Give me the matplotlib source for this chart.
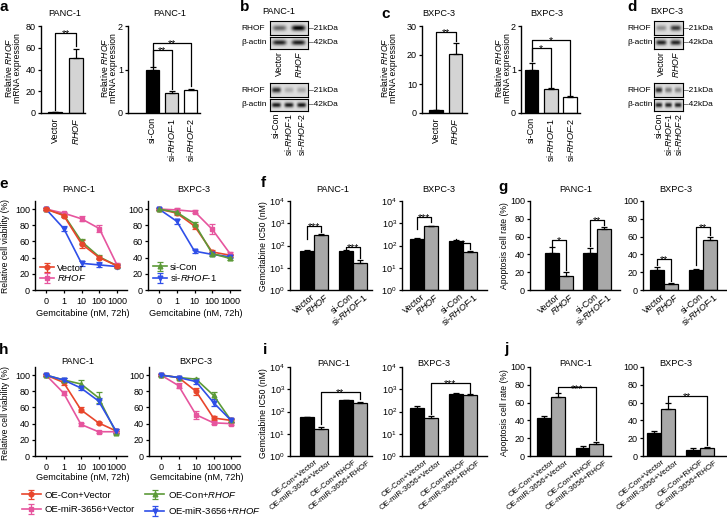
import numpy as np
import matplotlib
matplotlib.use('Agg')
import matplotlib.pyplot as plt
import matplotlib.transforms as mtrans

plt.rcParams['font.family'] = ['Liberation Sans', 'DejaVu Sans']
plt.rcParams['mathtext.fontset'] = 'custom'
plt.rcParams['mathtext.rm'] = 'Liberation Sans'
plt.rcParams['mathtext.it'] = 'Liberation Sans:italic'
plt.rcParams['mathtext.bf'] = 'Liberation Sans:bold'
plt.rcParams['font.size'] = 6.5

# ---------------- DATA ----------------
cells = ['PANC-1', 'BXPC-3']
oe_labels = ['Vector', r'$\it{RHOF}$']
si_labels = ['si-Con', r'si-$\it{RHOF}$-1', r'si-$\it{RHOF}$-2']

a_panc_oe = [1.0, 51.0]
a_panc_oe_err = [0.2, 8.0]
a_panc_si = [1.0, 0.46, 0.54]
a_panc_si_err = [0.05, 0.04, 0.02]
c_bx_oe = [1.0, 20.5]
c_bx_oe_err = [0.1, 3.8]
c_bx_si = [1.0, 0.55, 0.36]
c_bx_si_err = [0.15, 0.02, 0.02]

# western blot band intensities (relative)
b_rhof_oe = [0.55, 1.0]
b_actin_oe = [0.85, 0.88]
b_rhof_si = [0.8, 0.22, 0.25]
b_actin_si = [0.9, 0.9, 0.9]
d_rhof_oe = [0.35, 0.75]
d_actin_oe = [0.85, 0.85]
d_rhof_si = [0.8, 0.45, 0.4]
d_actin_si = [0.85, 0.85, 0.85]

doses = ['0', '1', '10', '100', '1000']
e_panc_vector = [100, 92, 57, 40, 30]
e_panc_vector_err = [1, 2, 5, 2, 2]
e_panc_rhof = [100, 95, 88, 76, 31]
e_panc_rhof_err = [1, 2, 3, 4, 2]
e_panc_sicon = [100, 93, 60, 41, 30]
e_panc_sicon_err = [1, 2, 3, 2, 2]
e_panc_sirhof = [100, 76, 33, 31, 29]
e_panc_sirhof_err = [1, 3, 3, 3, 2]
e_bx_vector = [100, 95, 79, 47, 43]
e_bx_vector_err = [1, 2, 3, 3, 2]
e_bx_rhof = [100, 99, 97, 75, 45]
e_bx_rhof_err = [1, 2, 2, 6, 2]
e_bx_sicon = [100, 96, 82, 45, 39]
e_bx_sicon_err = [1, 1, 2, 2, 2]
e_bx_sirhof = [100, 85, 48, 44, 41]
e_bx_sirhof_err = [1, 3, 2, 2, 2]

grp_labels = ['Vector', r'$\it{RHOF}$', 'si-Con', r'si-$\it{RHOF}$-1']
f_panc = [56, 295, 59, 17]
f_panc_err = [4, 20, 4, 5]
f_bx = [190, 750, 160, 53]
f_bx_err = [20, 40, 15, 5]
g_panc = [42, 16, 42, 69]
g_panc_err = [6, 4, 5.5, 2]
g_bx = [22.5, 6.5, 22, 56]
g_bx_err = [3.5, 1.5, 1.5, 3]

h_labels = ['OE-Con+Vector', 'OE-miR-3656+Vector', r'OE-Con+$\it{RHOF}$', r'OE-miR-3656+$\it{RHOF}$']
h_panc_con_vec = [100, 91, 57, 41, 31]
h_panc_con_vec_err = [1, 3, 3, 1, 2]
h_panc_mir_vec = [100, 78, 39, 30, 30]
h_panc_mir_vec_err = [1, 2, 2, 1, 1]
h_panc_con_rhof = [100, 94, 89, 72, 29]
h_panc_con_rhof_err = [1, 2, 5, 7, 2]
h_panc_mir_rhof = [100, 94, 84, 68, 31]
h_panc_mir_rhof_err = [1, 2, 3, 4, 2]
h_bx_con_vec = [100, 97, 80, 47, 44]
h_bx_con_vec_err = [1, 1, 4, 3, 3]
h_bx_mir_vec = [100, 87, 51, 41, 40]
h_bx_mir_vec_err = [1, 3, 5, 2, 2]
h_bx_con_rhof = [100, 97, 95, 75, 44]
h_bx_con_rhof_err = [1, 1, 2, 4, 2]
h_bx_mir_rhof = [100, 97, 92, 66, 44]
h_bx_mir_rhof_err = [1, 1, 3, 4, 2]

ij_labels = ['OE-Con+Vector', 'OE-miR-3656+Vector', 'OE-Con+RHOF', 'OE-miR-3656+RHOF']
i_panc = [54, 16, 315, 240]
i_panc_err = [4, 4, 10, 25]
i_bx = [150, 53, 630, 560]
i_bx_err = [20, 8, 40, 40]
j_panc = [42.5, 66, 9.4, 13]
j_panc_err = [2.5, 4.5, 2.2, 3]
j_bx = [25.5, 53, 7, 9.4]
j_bx_err = [2.5, 6, 1.6, 1.1]

# ---------------- FIGURE ----------------
W, H = 727, 523
fig = plt.figure(figsize=(W / 100, H / 100), dpi=100)

RED, PINK, GREEN, BLUE = '#e8462c', '#e6559e', '#5c9a38', '#2f4fe8'
GRAY = '#a8a8a8'
LIGHT = '#d4d4d4'
TS = 6.5
TITLE = 6.6
YL = 6.2


def add_ax(l, t, r, b):
    return fig.add_axes([l / W, 1 - b / H, (r - l) / W, (b - t) / H])


def ftext(x, y, s, **kw):
    kw.setdefault('fontsize', TITLE)
    kw.setdefault('ha', 'center')
    kw.setdefault('va', 'center')
    fig.text(x / W, 1 - y / H, s, **kw)


def style(ax):
    for s in ['top', 'right']:
        ax.spines[s].set_visible(False)
    for s in ['left', 'bottom']:
        ax.spines[s].set_linewidth(1.0)
    ax.tick_params(axis='both', labelsize=TS, length=2.5, width=0.9, pad=1.2)


def shift_labels(ax, dx):
    off = mtrans.ScaledTranslation(dx / 100, 0, fig.dpi_scale_trans)
    for lab in ax.get_xticklabels():
        lab.set_transform(lab.get_transform() + off)


def bar_panel(box, c0, s, pos, vals, errs, colors, width, labels, ylim, yticks,
              rot=90, log=False, lsize=TS, dx=0):
    l, t, r, b = box
    ax = add_ax(l, t, r, b)
    style(ax)
    if log:
        ax.set_yscale('log')
    base = 1 if log else 0
    ax.bar(pos, np.array(vals, float) - base, bottom=base, width=width, color=colors,
           edgecolor='black', linewidth=0.9, zorder=2)
    ax.errorbar(pos, vals, yerr=[np.zeros(len(vals)), errs], fmt='none', ecolor='black',
                elinewidth=0.9, capsize=2.2, capthick=0.9, zorder=3)
    ax.set_xlim((l - c0) / s, (r - c0) / s)
    ax.set_ylim(*ylim)
    ax.set_yticks(yticks)
    if log:
        ax.yaxis.set_minor_locator(matplotlib.ticker.NullLocator())
    ax.set_xticks(pos)
    if rot == 90:
        ax.set_xticklabels(labels, rotation=90, ha='center', va='top', fontsize=lsize)
        ax.tick_params(axis='x', length=0, pad=3)
    else:
        ax.set_xticklabels(labels, rotation=rot, ha='right', va='center',
                           rotation_mode='anchor', fontsize=lsize)
        ax.tick_params(axis='x', length=0, pad=4)
        shift_labels(ax, dx)
    return ax


def bracket(ax, x1, x2, y, y1, y2, txt):
    ax.plot([x1, x1, x2, x2], [y1, y, y, y2], color='black', lw=0.9, clip_on=False, zorder=4)
    ax.annotate(txt, ((x1 + x2) / 2, y), xytext=(0, -3.0), textcoords='offset points',
                ha='center', va='baseline', fontsize=7.5)


def blot(l, t, r, b, intens):
    ax = add_ax(l, t, r, b)
    n = len(intens)
    xs = np.linspace(0, n, 240)
    ys = np.linspace(0, 1, 40)
    X, Y = np.meshgrid(xs, ys)
    img = np.zeros_like(X)
    for k, v in enumerate(intens):
        img += v * np.exp(-((X - (k + 0.5)) / 0.36) ** 4) * np.exp(-((Y - 0.5) / 0.2) ** 2)
    ax.imshow(img, extent=(0, n, 0, 1), cmap='gray_r', vmin=-0.15, vmax=1.0,
              aspect='auto', origin='lower', interpolation='bilinear')
    ax.set_xticks([])
    ax.set_yticks([])
    for s in ax.spines.values():
        s.set_linewidth(0.8)
    return ax


def two_line_ylabel(x, y, gap=9.5):
    ftext(x - gap / 2, y, r'Relative $\it{RHOF}$', rotation=90, fontsize=YL)
    ftext(x + gap / 2, y, 'mRNA expression', rotation=90, fontsize=YL)


# ---- panel a ----
ax = bar_panel((41, 26, 85, 113), 55, 21, [0, 1], a_panc_oe, a_panc_oe_err,
               ['black', LIGHT], 0.67, oe_labels, (0, 80), [0, 20, 40, 60, 80])
bracket(ax, 0, 1, 73.5, 3, 62, '**')
ax = bar_panel((128, 26, 200, 113), 152.5, 19, [0, 1, 2], a_panc_si, a_panc_si_err,
               ['black', LIGHT, 'white'], 0.7, si_labels, (0, 2), [0, 1, 2])
bracket(ax, 0, 2, 1.62, 1.09, 0.62, '**')
bracket(ax, 0, 1, 1.45, 1.09, 0.55, '**')
ftext(65, 14, cells[0])
ftext(170, 14, cells[0])
two_line_ylabel(13, 68)
two_line_ylabel(109, 68)

# ---- panel c ----
ax = bar_panel((422, 26, 467, 113), 436, 19.5, [0, 1], c_bx_oe, c_bx_oe_err,
               ['black', LIGHT], 0.7, oe_labels, (0, 30), [0, 10, 20, 30])
bracket(ax, 0, 1, 27.9, 1.5, 24.8, '**')
ax = bar_panel((521, 26, 580, 113), 531.5, 19.3, [0, 1, 2], c_bx_si, c_bx_si_err,
               ['black', LIGHT, 'white'], 0.7, si_labels, (0, 2), [0, 1, 2])
bracket(ax, 0, 2, 1.68, 1.2, 0.42, '*')
bracket(ax, 0, 1, 1.5, 1.2, 0.6, '*')
ftext(439, 14, cells[1])
ftext(547, 14, cells[1])
two_line_ylabel(389, 68)
two_line_ylabel(503, 68)

# ---- panels b, d (western blots) ----
BL = 6.0


def blot_group(x0, x1, txt_x, kda_x, title_x, title, oe_r, oe_a, si_r, si_a):
    blot(x0, 21, x1, 35, oe_r)
    blot(x0, 37, x1, 49, oe_a)
    blot(x0, 83, x1, 97, si_r)
    blot(x0, 99, x1, 111, si_a)
    ftext(title_x, 12, title)
    for y, lab in [(28, 'RHOF'), (43, 'β-actin'), (90, 'RHOF'), (105, 'β-actin')]:
        ftext(txt_x, y, lab, ha='left', fontsize=BL)
    for y, lab in [(28, '–21kDa'), (43, '–42kDa'), (90, '–21kDa'), (105, '–42kDa')]:
        ftext(kda_x, y, lab, ha='left', fontsize=BL)
    w = x1 - x0
    for k, lab in enumerate(oe_labels):
        ftext(x0 + w * (k + 0.5) / 2, 51, lab, rotation=90, va='top', fontsize=BL + 0.3)
    for k, lab in enumerate(si_labels):
        ftext(x0 + w * (k + 0.5) / 3, 113, lab, rotation=90, va='top', fontsize=BL + 0.3)


blot_group(270, 308, 241, 309, 279, cells[0], b_rhof_oe, b_actin_oe, b_rhof_si, b_actin_si)
blot_group(654, 683, 627, 684, 667, cells[1], d_rhof_oe, d_actin_oe, d_rhof_si, d_actin_si)


# ---- dose response panels ----
def dose_panel(box, c0, s, series, xlabel_y):
    l, t, r, b = box
    ax = add_ax(l, t, r, b)
    style(ax)
    ax.tick_params(axis='x', pad=2.5)
    x = np.arange(len(doses))
    handles = []
    for vals, errs, color, marker in series:
        h = ax.errorbar(x, vals, yerr=errs, color=color, marker=marker, ms=3.4, lw=1.2,
                        capsize=2, elinewidth=0.9, capthick=0.9)
        handles.append(h)
    ax.set_xlim((l - c0) / s, (r - c0) / s)
    ax.set_ylim(0, 110)
    ax.set_yticks([0, 20, 40, 60, 80, 100])
    ax.set_xticks(x)
    ax.set_xticklabels(doses)
    ftext((l + r) / 2 + 2, xlabel_y, 'Gemcitabine (nM, 72h)')
    return ax, handles


e_left_series = [
    (e_panc_sicon, e_panc_sicon_err, GREEN, '^'),
    (e_panc_sirhof, e_panc_sirhof_err, BLUE, 'v'),
    (e_panc_rhof, e_panc_rhof_err, PINK, 's'),
    (e_panc_vector, e_panc_vector_err, RED, 'o'),
]
e_right_series = [
    (e_bx_vector, e_bx_vector_err, RED, 'o'),
    (e_bx_rhof, e_bx_rhof_err, PINK, 's'),
    (e_bx_sirhof, e_bx_sirhof_err, BLUE, 'v'),
    (e_bx_sicon, e_bx_sicon_err, GREEN, '^'),
]
leg_kw = dict(loc='lower left', frameon=False, fontsize=6.8, handlelength=1.5,
              handletextpad=0.3, labelspacing=0.1, borderaxespad=0.1,
              bbox_to_anchor=(0.0, 0.02))
ax, hs = dose_panel((35, 201, 127, 290), 46, 17.75, e_left_series, 314)
ax.legend([hs[3], hs[2]], ['Vector', r'$\it{RHOF}$'], **leg_kw)
ax, hs = dose_panel((148, 201, 240, 290), 159, 17.75, e_right_series, 314)
ax.legend([hs[3], hs[2]], ['si-Con', r'si-$\it{RHOF}$-1'], **leg_kw)
ftext(79, 190, cells[0])
ftext(194, 190, cells[1])
ftext(6, 246, 'Relative cell viability (%)', rotation=90, fontsize=YL)

h_left_series = [
    (h_panc_con_vec, h_panc_con_vec_err, RED, 'o'),
    (h_panc_mir_vec, h_panc_mir_vec_err, PINK, 's'),
    (h_panc_con_rhof, h_panc_con_rhof_err, GREEN, '^'),
    (h_panc_mir_rhof, h_panc_mir_rhof_err, BLUE, 'v'),
]
h_right_series = [
    (h_bx_con_vec, h_bx_con_vec_err, RED, 'o'),
    (h_bx_mir_vec, h_bx_mir_vec_err, PINK, 's'),
    (h_bx_con_rhof, h_bx_con_rhof_err, GREEN, '^'),
    (h_bx_mir_rhof, h_bx_mir_rhof_err, BLUE, 'v'),
]
ax, hs = dose_panel((35, 367, 127, 456), 46, 17.5, h_left_series, 478)
ax, hs2 = dose_panel((149, 367, 240, 456), 161, 17.5, h_right_series, 478)
ftext(78, 362, cells[0])
ftext(196, 362, cells[1])
ftext(6, 413, 'Relative cell viability (%)', rotation=90, fontsize=YL)
fig.legend(hs, h_labels, ncol=2, loc='upper left', bbox_to_anchor=(18 / W, 1 - 486 / H),
           frameon=False, fontsize=6.8, handlelength=2.0, handletextpad=0.4,
           labelspacing=0.6, columnspacing=1.1, borderaxespad=0)

# ---- panels f, g ----
gpos = [0, 1, 2.75, 3.75]
cols = ['black', GRAY, 'black', GRAY]
log_ticks = [1, 10, 100, 1000, 10000]

ax = bar_panel((290, 201, 372, 290), 307, 14, gpos, f_panc, f_panc_err, cols, 1.0,
               grp_labels, (1, 10000), log_ticks, rot=40, log=True, dx=7)
bracket(ax, 0, 1, 10 ** 2.88, 10 ** 2.3, 10 ** 2.62, '***')
bracket(ax, 2.75, 3.75, 10 ** 1.92, 10 ** 1.85, 10 ** 1.42, '***')
ax = bar_panel((402, 201, 487, 290), 417, 14, gpos, f_bx, f_bx_err, cols, 1.0,
               grp_labels, (1, 10000), log_ticks, rot=40, log=True, dx=7)
bracket(ax, 0, 1, 10 ** 3.3, 10 ** 2.75, 10 ** 3.05, '***')
bracket(ax, 2.75, 3.75, 10 ** 2.1, 10 ** 2.3, 10 ** 1.85, '*')
ftext(333, 190, cells[0])
ftext(439, 190, cells[1])
ftext(263, 246, 'Gemcitabine IC50 (nM)', rotation=90, fontsize=YL)

ax = bar_panel((530, 201, 620, 290), 552, 13.8, gpos, g_panc, g_panc_err, cols, 1.0,
               grp_labels, (0, 100), [0, 20, 40, 60, 80, 100], rot=40, dx=7)
bracket(ax, 0, 1, 56, 50, 22, '*')
bracket(ax, 2.75, 3.75, 79, 50, 73, '**')
ax = bar_panel((643, 201, 726, 290), 657, 14, gpos, g_bx, g_bx_err, cols, 1.0,
               grp_labels, (0, 100), [0, 20, 40, 60, 80, 100], rot=40, dx=7)
bracket(ax, 0, 1, 35, 28, 10, '**')
bracket(ax, 2.75, 3.75, 71, 28, 62, '**')
ftext(576, 190, cells[0])
ftext(676, 190, cells[1])
ftext(505, 246, 'Apoptosis cell rate (%)', rotation=90, fontsize=YL)

# ---- panels i, j ----
IJ = 5.8
ax = bar_panel((290, 367, 372, 456), 307, 14, gpos, i_panc, i_panc_err, cols, 1.0,
               ij_labels, (1, 10000), log_ticks, rot=38, log=True, lsize=IJ, dx=10)
bracket(ax, 1, 3.75, 10 ** 2.86, 10 ** 1.45, 10 ** 2.55, '**')
ax = bar_panel((402, 367, 487, 456), 417, 14, gpos, i_bx, i_bx_err, cols, 1.0,
               ij_labels, (1, 10000), log_ticks, rot=38, log=True, lsize=IJ, dx=10)
bracket(ax, 1, 3.75, 10 ** 3.28, 10 ** 1.9, 10 ** 2.85, '***')
ftext(334, 364, cells[0])
ftext(434, 364, cells[1])
ftext(263, 413, 'Gemcitabine IC50 (nM)', rotation=90, fontsize=YL)

ax = bar_panel((530, 367, 611, 456), 544, 14, gpos, j_panc, j_panc_err, cols, 1.0,
               ij_labels, (0, 100), [0, 20, 40, 60, 80, 100], rot=38, lsize=IJ, dx=10)
bracket(ax, 1, 3.75, 77, 72, 18, '***')
ax = bar_panel((643, 367, 726, 456), 654, 14, gpos, j_bx, j_bx_err, cols, 1.0,
               ij_labels, (0, 100), [0, 20, 40, 60, 80, 100], rot=38, lsize=IJ, dx=10)
bracket(ax, 1, 3.75, 67, 61, 12, '**')
ftext(576, 364, cells[0])
ftext(676, 364, cells[1])
ftext(505, 413, 'Apoptosis cell rate (%)', rotation=90, fontsize=YL)

# ---- panel letters ----
for lt, x, y in [('a', 4, 7), ('b', 245, 7), ('c', 386, 14), ('d', 632, 7),
                 ('e', 4, 184), ('f', 263, 183), ('g', 503, 187),
                 ('h', 4, 350), ('i', 265, 350), ('j', 506, 349)]:
    ftext(x, y, lt, fontsize=11, fontweight='bold')

fig.savefig('out.png', dpi=100)
